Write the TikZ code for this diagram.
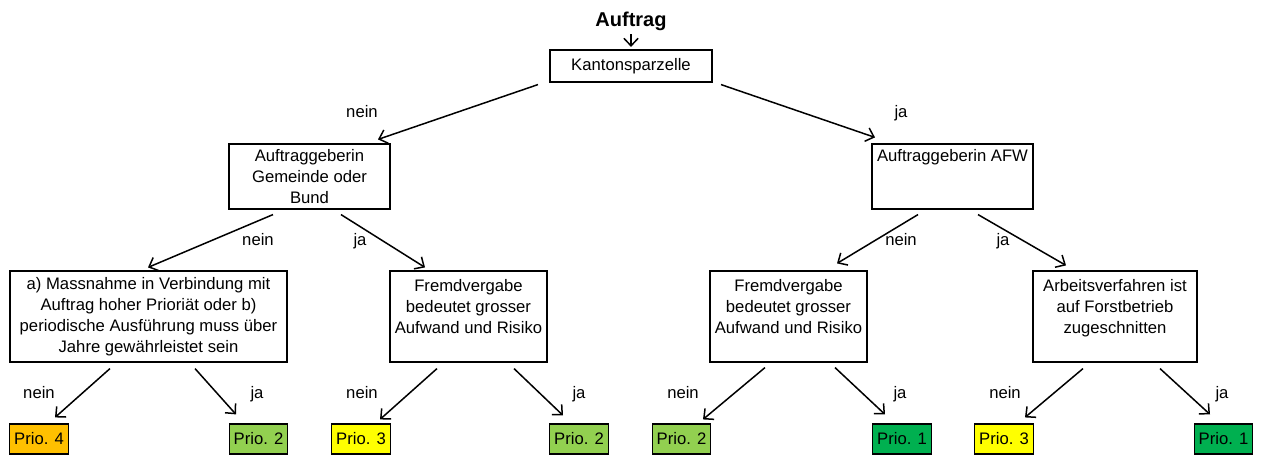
\documentclass[tikz,border=0pt]{standalone}
\usepackage{fontspec}
\setmainfont{Liberation Sans}
\usepackage{xcolor}
\usepackage{tikz}
\usetikzlibrary{arrows.meta,calc}
\tikzset{>={Straight Barb[length=4.5pt,width=8.5pt]}}
\definecolor{prioOrange}{HTML}{FFC000}
\definecolor{prioLight}{HTML}{92D050}
\definecolor{prioYellow}{HTML}{FFFF00}
\definecolor{prioGreen}{HTML}{00B050}
\tikzstyle{box}  = [rectangle,draw,line width=0.7pt,align=center,inner sep=2pt]
\tikzstyle{prio} = [rectangle,draw,line width=0.7pt,minimum width=35pt,minimum height=18pt,inner sep=1pt]
\tikzstyle{lbl}  = [anchor=base,inner sep=0pt]

\begin{document}
\begin{tikzpicture}[x=0.6pt,y=-0.6pt,font=\fontsize{10}{12.6}\selectfont]
	\useasboundingbox (0,0) rectangle (1262,455);
	\tikzstyle{arr} = [->,line width=0.9pt]

	\node[font=\fontsize{12}{14}\selectfont\bfseries,inner sep=0pt] (auftrag) at (631,21) {Auftrag};
	\node[box,minimum width=97.2pt,minimum height=19.2pt] (kanton) at (631,66) {Kantonsparzelle};

	\node[box,minimum width=96.6pt,minimum height=39pt] (gemeinde) at (309.5,176.5) {Auftraggeberin\\Gemeinde oder\\Bund};
	\node[box,minimum width=96.6pt,minimum height=39pt] (afw) at (952.5,176.5) {Auftraggeberin AFW\\\mbox{}\\\mbox{}};

	\node[box,minimum width=166.2pt,minimum height=54.6pt] (massnahme) at (148.5,316.5) {a) Massnahme in Verbindung mit\\Auftrag hoher Prioriät oder b)\\periodische Ausführung muss über\\Jahre gewährleistet sein};
	\node[box,minimum width=94.2pt,minimum height=54.6pt] (fremdA) at (468.5,316.5) {Fremdvergabe\\bedeutet grosser\\Aufwand und Risiko\\\mbox{}};
	\node[box,minimum width=94.2pt,minimum height=54.6pt] (fremdB) at (788.5,316.5) {Fremdvergabe\\bedeutet grosser\\Aufwand und Risiko\\\mbox{}};
	\node[box,minimum width=98.4pt,minimum height=54.6pt] (verfahren) at (1115,316.5) {Arbeitsverfahren ist\\auf Forstbetrieb\\zugeschnitten\\\mbox{}};

	\node[prio,fill=prioOrange] (p1) at (39,439) {Prio. 4};
	\node[prio,fill=prioLight]  (p2) at (258.5,439) {Prio. 2};
	\node[prio,fill=prioYellow] (p3) at (361,439) {Prio. 3};
	\node[prio,fill=prioLight]  (p4) at (579,439) {Prio. 2};
	\node[prio,fill=prioLight]  (p5) at (681.5,439) {Prio. 2};
	\node[prio,fill=prioGreen]  (p6) at (902,439) {Prio. 1};
	\node[prio,fill=prioYellow] (p7) at (1004,439) {Prio. 3};
	\node[prio,fill=prioGreen]  (p8) at (1223.5,439) {Prio. 1};

	% ja / nein
	\node[lbl] (l1) at (362,118) {nein};
	\node[lbl] (l2) at (901,118) {ja};
	\node[lbl] (l3) at (258,246) {nein};
	\node[lbl] (l4) at (360,246) {ja};
	\node[lbl] (l5) at (901,246) {nein};
	\node[lbl] (l6) at (1003,246) {ja};
	\node[lbl] (l7) at (39,399) {nein};
	\node[lbl] (l8) at (257,399) {ja};
	\node[lbl] (l9) at (362,399) {nein};
	\node[lbl] (l10) at (579,399) {ja};
	\node[lbl] (l11) at (683,399) {nein};
	\node[lbl] (l12) at (900,399) {ja};
	\node[lbl] (l13) at (1005,399) {nein};
	\node[lbl] (l14) at (1222,399) {ja};

	\draw[arr,shorten <=2pt,shorten >=1.5pt] (auftrag) -- (kanton);

	\draw[arr] ($(kanton.south)+(-93,2)$) -- ($(gemeinde.north)+(68.5,-4)$);
	\draw[arr] ($(kanton.south)+(90,2)$) -- ($(afw.north)+(-77.5,-6)$);

	\draw[arr] ($(gemeinde.south)+(-36.5,5)$) -- ($(massnahme.north)+(-0.5,-3)$);
	\draw[arr] ($(gemeinde.south)+(31.5,5)$) -- ($(fremdA.north)+(-43.5,-3)$);
	\draw[arr] ($(afw.south)+(-34.5,5)$) -- ($(fremdB.north)+(48.5,-7)$);
	\draw[arr] ($(afw.south)+(25.5,5)$) -- ($(verfahren.north)+(-49,-5)$);

	\draw[arr] ($(massnahme.south)+(-38.5,6)$) -- ($(p1.north)+(16,-6)$);
	\draw[arr] ($(massnahme.south)+(46.5,6)$) -- ($(p2.north)+(-22.5,-9)$);
	\draw[arr] ($(fremdA.south)+(-31.5,6)$) -- ($(p3.north)+(19,-4)$);
	\draw[arr] ($(fremdA.south)+(45.5,6)$) -- ($(p4.north)+(-16,-8)$);
	\draw[arr] ($(fremdB.south)+(-23.5,5)$) -- ($(p5.north)+(21.5,-4)$);
	\draw[arr] ($(fremdB.south)+(46.5,5)$) -- ($(p6.north)+(-17,-9)$);
	\draw[arr] ($(verfahren.south)+(-32,6)$) -- ($(p7.north)+(21,-6)$);
	\draw[arr] ($(verfahren.south)+(45,6)$) -- ($(p8.north)+(-13.5,-9)$);
\end{tikzpicture}
\end{document}
